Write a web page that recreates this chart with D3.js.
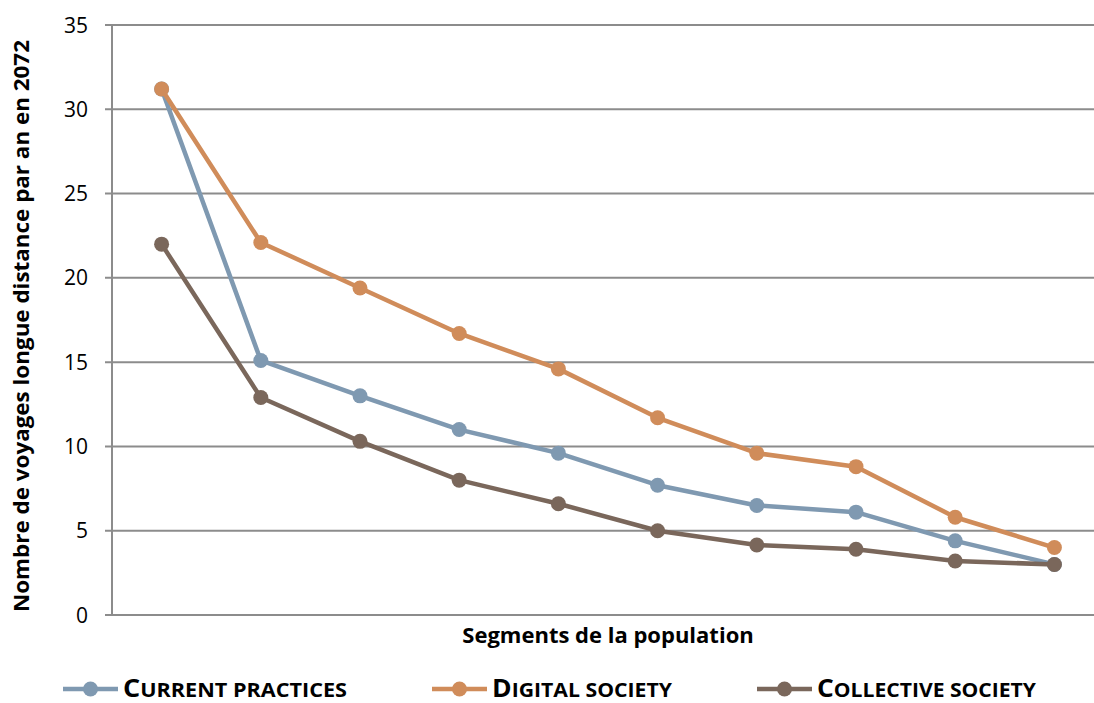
<!DOCTYPE html>
<html><head><meta charset="utf-8">
<script src="https://cdn.jsdelivr.net/npm/d3@7"></script>
<style>body{margin:0;background:#fff}svg{display:block}</style>
</head><body>
<svg id="c" width="1094" height="703"></svg>
<script>
const categories = ["S1","S2","S3","S4","S5","S6","S7","S8","S9","S10"];
const currentPractices = [31.2, 15.1, 13.0, 11.0, 9.6, 7.7, 6.5, 6.1, 4.4, 3.0];
const digitalSociety   = [31.2, 22.1, 19.4, 16.7, 14.6, 11.7, 9.6, 8.8, 5.8, 4.0];
const collectiveSociety= [22.0, 12.9, 10.3, 8.0, 6.6, 5.0, 4.15, 3.9, 3.2, 3.0];
const yTicks = [0,5,10,15,20,25,30,35];
const seriesNames = ["Current practices","Digital society","Collective society"];
const colors = ["#7f99b1","#d08c5a","#7a675b"];

const svg = d3.select("#c");
const pLeft = 112, pRight = 1104, pTop = 25, pBottom = 615;
const x = d3.scalePoint().domain(categories).range([pLeft, pRight]).padding(0.5);
const y = d3.scaleLinear().domain([0,35]).range([pBottom, pTop]);
const font = "'Open Sans', sans-serif";

// gridlines
svg.append("g").selectAll("line").data(yTicks).join("line")
  .attr("x1", pLeft-7).attr("x2", 1094)
  .attr("y1", d=>y(d)).attr("y2", d=>y(d))
  .attr("stroke", "#8c8c8c").attr("stroke-width", 2);
svg.append("line").attr("x1", pLeft).attr("x2", pLeft).attr("y1", pTop).attr("y2", pBottom)
  .attr("stroke", "#8c8c8c").attr("stroke-width", 2);

// tick labels
svg.append("g").selectAll("text").data(yTicks).join("text")
  .attr("x", 88).attr("y", d=>y(d)).attr("dy","0.36em")
  .attr("text-anchor","end")
  .style("font-family",font).style("font-size","21px").attr("fill","#000")
  .text(d=>d);

// axis titles
svg.append("text").attr("x", 608).attr("y", 643).attr("text-anchor","middle")
  .style("font-family",font).style("font-size","22px").style("font-weight","bold")
  .text("Segments de la population");
svg.append("text").attr("transform","translate(29,326) rotate(-90)").attr("text-anchor","middle")
  .style("font-family",font).style("font-size","22px").style("font-weight","bold")
  .attr("textLength", 572).attr("lengthAdjust","spacingAndGlyphs")
  .text("Nombre de voyages longue distance par an en 2072");

const data = [currentPractices, digitalSociety, collectiveSociety];
const line = d3.line().x((d,i)=>x(categories[i])).y(d=>y(d));
const order = [0,2,1];
order.forEach(si=>{
  const g = svg.append("g");
  g.append("path").attr("d", line(data[si])).attr("fill","none")
    .attr("stroke", colors[si]).attr("stroke-width", 4.5).attr("stroke-linejoin","round");
  g.selectAll("circle").data(data[si]).join("circle")
    .attr("cx",(d,i)=>x(categories[i])).attr("cy",d=>y(d)).attr("r",7.5).attr("fill",colors[si]);
});

// legend
const legX = [63, 432, 757];
const legW = [224, 180, 219];
seriesNames.forEach((n,i)=>{
  const g = svg.append("g").attr("transform",`translate(${legX[i]},689)`);
  g.append("line").attr("x1",0).attr("x2",55).attr("stroke",colors[i]).attr("stroke-width",4.5);
  g.append("circle").attr("cx",27.5).attr("r",7.5).attr("fill",colors[i]);
  const t = g.append("text").attr("x",60).attr("y",8)
    .style("font-family",font).style("font-weight","bold")
    .attr("textLength", legW[i]).attr("lengthAdjust","spacingAndGlyphs");
  t.append("tspan").style("font-size","25px").text(n[0].toUpperCase());
  t.append("tspan").style("font-size","20px").text(n.slice(1).toUpperCase());
});
</script>
</body></html>
